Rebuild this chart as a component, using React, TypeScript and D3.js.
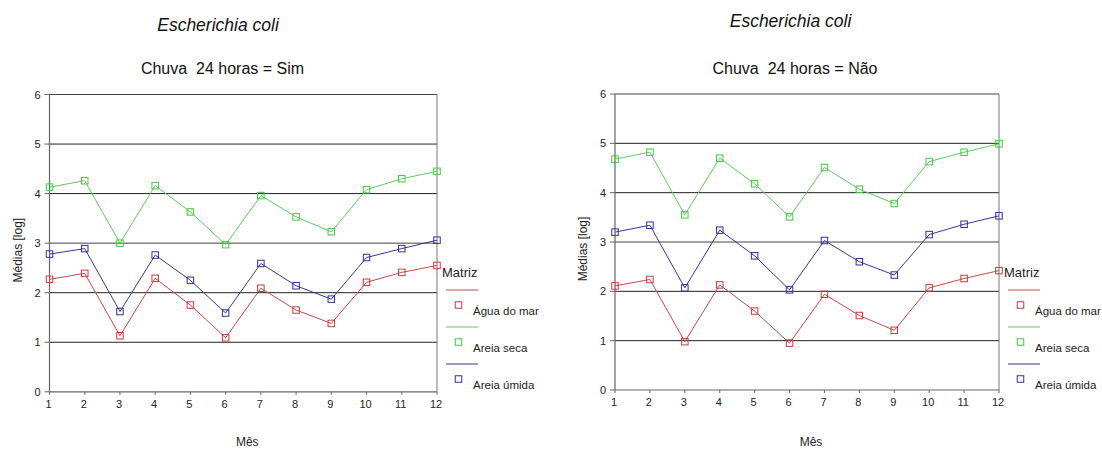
import React from "react";
import * as d3 from "d3";

const months = [1, 2, 3, 4, 5, 6, 7, 8, 9, 10, 11, 12];
const yTicks = [0, 1, 2, 3, 4, 5, 6];
const seriesNames = ["Água do mar", "Areia seca", "Areia úmida"];
const lineColors = ["#c84848", "#5ccc5c", "#35359a"];
const markColors = ["#cc3a3a", "#3fcc3f", "#2f2fa0"];

const simAgua = [2.27, 2.39, 1.13, 2.29, 1.75, 1.09, 2.09, 1.65, 1.38, 2.21, 2.41, 2.55];
const simSeca = [4.13, 4.26, 3.0, 4.16, 3.63, 2.97, 3.96, 3.53, 3.23, 4.08, 4.3, 4.45];
const simUmida = [2.78, 2.89, 1.62, 2.76, 2.25, 1.59, 2.59, 2.14, 1.87, 2.71, 2.89, 3.06];

const naoAgua = [2.11, 2.24, 0.98, 2.13, 1.6, 0.95, 1.94, 1.51, 1.21, 2.07, 2.26, 2.42];
const naoSeca = [4.68, 4.82, 3.55, 4.7, 4.18, 3.51, 4.51, 4.07, 3.78, 4.63, 4.82, 4.99];
const naoUmida = [3.2, 3.34, 2.07, 3.24, 2.72, 2.03, 3.03, 2.6, 2.33, 3.15, 3.36, 3.53];

const FONT = "'Liberation Sans', Arial, sans-serif";

type ChartProps = {
  left: number;
  right: number;
  top: number;
  bottom: number;
  title: string;
  titleX: number;
  titleY: number;
  subtitle: string;
  subtitleX: number;
  series: number[][];
};

function Chart({ left, right, top, bottom, title, titleX, titleY, subtitle, subtitleX, series }: ChartProps) {
  const x = d3.scaleLinear().domain([1, 12]).range([left, right]);
  const y = d3.scaleLinear().domain([0, 6]).range([bottom, top]);
  const line = d3
    .line<number>()
    .x((_, i) => x(months[i]))
    .y((v) => y(v));
  const cx = (left + right) / 2;
  const lx = right + 9;
  const ms = 6.5;
  return (
    <g fontFamily={FONT}>
      <text x={titleX} y={titleY} textAnchor="middle" fontSize={17.5} fontStyle="italic" fill="#111">
        {title}
      </text>
      <text x={subtitleX} y={74} textAnchor="middle" fontSize={16} fill="#111" style={{ whiteSpace: "pre" }}>
        {subtitle}
      </text>
      {yTicks.slice(1).map((t) => (
        <line key={"g" + t} x1={left} x2={right} y1={y(t)} y2={y(t)} stroke={t === 6 || t === 3 ? "#444" : "#222"} strokeWidth={1} />
      ))}
      <line x1={right} x2={right} y1={top} y2={bottom} stroke="#777" strokeWidth={1} />
      <line x1={left} x2={left} y1={top} y2={bottom} stroke="#666" strokeWidth={1.2} />
      <line x1={left} x2={right} y1={bottom} y2={bottom} stroke="#666" strokeWidth={1.2} />
      {yTicks.map((t) => (
        <g key={"yt" + t}>
          <line x1={left - 5} x2={left} y1={y(t)} y2={y(t)} stroke="#666" />
          <text x={left - 9} y={y(t) + 4} textAnchor="end" fontSize={11} fill="#222">
            {t}
          </text>
        </g>
      ))}
      {months.map((m) => (
        <g key={"xt" + m}>
          <line x1={x(m)} x2={x(m)} y1={bottom} y2={bottom + 3} stroke="#666" />
          <text x={x(m) - 1} y={bottom + 16} textAnchor="middle" fontSize={11} fill="#222">
            {m}
          </text>
        </g>
      ))}
      <text
        transform={`translate(${left - 28},${(top + bottom) / 2 + 7}) rotate(-90)`}
        textAnchor="middle"
        fontSize={12}
        fill="#222"
      >
        Médias [log]
      </text>
      <text x={cx + 4} y={446} textAnchor="middle" fontSize={12} fill="#222">
        Mês
      </text>
      {series.map((s, si) => (
        <g key={"s" + si}>
          <path d={line(s) || ""} fill="none" stroke={lineColors[si]} strokeWidth={1} />
          {s.map((v, i) => (
            <rect
              key={i}
              x={x(months[i]) - ms / 2}
              y={y(v) - ms / 2}
              width={ms}
              height={ms}
              fill="none"
              stroke={markColors[si]}
              strokeWidth={1}
            />
          ))}
        </g>
      ))}
      <text x={right + 5} y={277} fontSize={13} fill="#222">
        Matriz
      </text>
      {seriesNames.map((n, i) => {
        const ly = 290 + i * 37;
        return (
          <g key={"l" + i}>
            <line x1={lx} x2={lx + 32} y1={ly} y2={ly} stroke={lineColors[i]} strokeWidth={1} />
            <rect x={lx + 12 - ms / 2 + 0.5} y={ly + 15 - ms / 2} width={ms} height={ms} fill="none" stroke={markColors[i]} />
            <text x={lx + 27} y={ly + 25} fontSize={11.5} fill="#222">
              {n}
            </text>
          </g>
        );
      })}
    </g>
  );
}

export default function App() {
  return (
    <svg
      width={1102}
      height={449}
      style={{ position: "absolute", left: 0, top: 0, background: "#fff" }}
    >
      <rect width={1102} height={449} fill="#fff" />
      <Chart
        left={49.5}
        right={437}
        top={94.5}
        bottom={391.8}
        title="Escherichia coli"
        titleX={218}
        titleY={31}
        subtitle="Chuva  24 horas = Sim"
        subtitleX={222.5}
        series={[simAgua, simSeca, simUmida]}
      />
      <Chart
        left={615}
        right={999}
        top={94}
        bottom={390}
        title="Escherichia coli"
        titleX={790.5}
        titleY={27}
        subtitle="Chuva  24 horas = Não"
        subtitleX={795}
        series={[naoAgua, naoSeca, naoUmida]}
      />
    </svg>
  );
}
